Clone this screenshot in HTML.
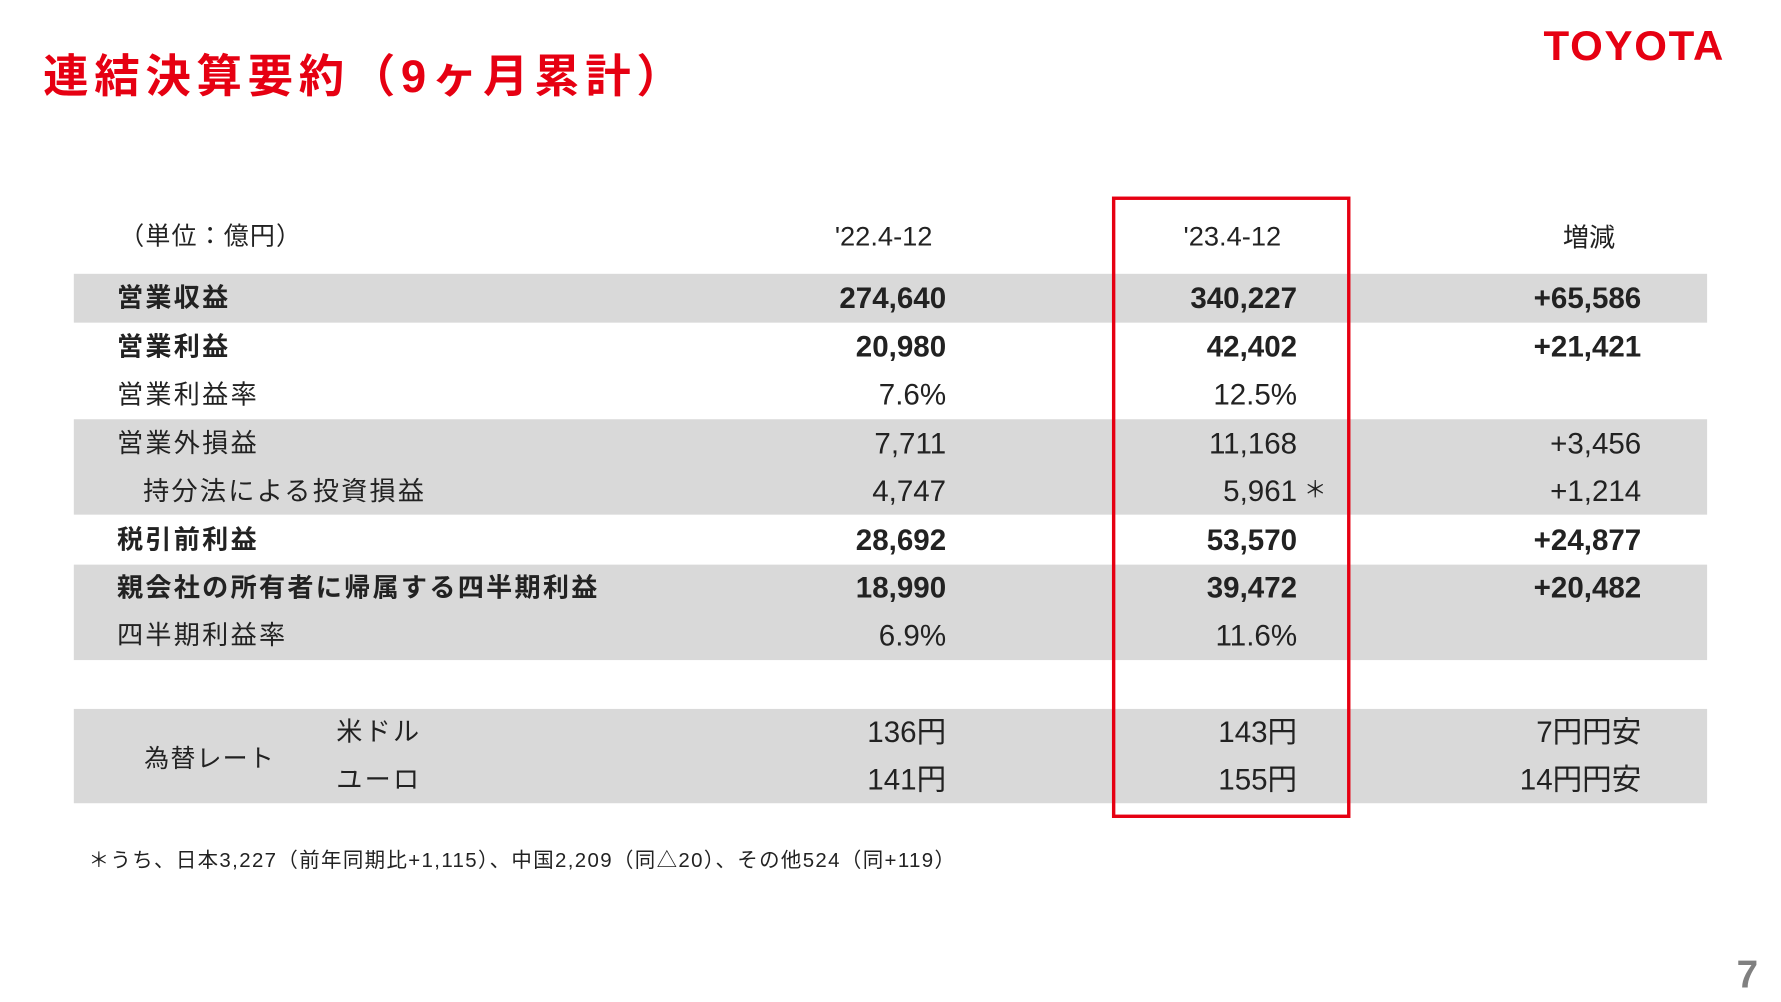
<!DOCTYPE html>
<html><head><meta charset="utf-8"><style>
html,body{margin:0;padding:0;background:#fff;overflow:hidden}
body{width:1781px;height:1002px}
#s{position:absolute;left:0;top:0;width:1568px;height:882px;transform:scale(1.1358,1.1361);transform-origin:0 0;font-family:"Liberation Sans","Noto Sans CJK JP",sans-serif;color:#222}
.a{position:absolute;white-space:nowrap}
.band{position:absolute;left:65px;width:1438px;background:#d9d9d9}
.r{position:absolute;left:0;width:1568px;height:42px;line-height:42px;font-size:26px}
.r span{position:absolute;white-space:nowrap}
.l{left:103px;font-size:23px;letter-spacing:2px}
.c1{right:735px}.c2{right:426px}.c3{right:123px}
.b{font-weight:bold}
</style></head><body><div id="s">
<div class="a" style="left:38px;top:40px;font-size:40px;font-weight:bold;color:#e60012;line-height:56px;letter-spacing:5px">連結決算要約（9ヶ月累計）</div>
<div class="a" style="left:1359px;top:21px;font-size:37px;font-weight:bold;color:#e60012;line-height:40px;letter-spacing:1.5px">TOYOTA</div>
<div class="a" style="left:105px;top:194px;font-size:22px;line-height:28px;letter-spacing:1px">（単位：億円）</div>
<div class="a" style="left:735px;top:195px;font-size:24px;line-height:28px">'22.4-12</div>
<div class="a" style="left:1042px;top:195px;font-size:24px;line-height:28px">'23.4-12</div>
<div class="a" style="left:1376px;top:195px;font-size:23px;line-height:28px">増減</div>
<div class="band" style="top:241px;height:43px"></div>
<div class="band" style="top:369px;height:84px"></div>
<div class="band" style="top:497px;height:84px"></div>
<div class="band" style="top:624px;height:83px"></div>
<div class="r b" style="top:241px"><span class="l">営業収益</span><span class="c1">274,640</span><span class="c2">340,227</span><span class="c3">+65,586</span></div>
<div class="r b" style="top:284px"><span class="l">営業利益</span><span class="c1">20,980</span><span class="c2">42,402</span><span class="c3">+21,421</span></div>
<div class="r" style="top:326px"><span class="l">営業利益率</span><span class="c1">7.6%</span><span class="c2">12.5%</span></div>
<div class="r" style="top:369px"><span class="l">営業外損益</span><span class="c1">7,711</span><span class="c2">11,168</span><span class="c3">+3,456</span></div>
<div class="r" style="top:411px"><span class="l" style="left:126px">持分法による投資損益</span><span class="c1">4,747</span><span class="c2">5,961</span><span style="left:1148px;font-size:20px">＊</span><span class="c3">+1,214</span></div>
<div class="r b" style="top:454px"><span class="l">税引前利益</span><span class="c1">28,692</span><span class="c2">53,570</span><span class="c3">+24,877</span></div>
<div class="r b" style="top:496px"><span class="l">親会社の所有者に帰属する四半期利益</span><span class="c1">18,990</span><span class="c2">39,472</span><span class="c3">+20,482</span></div>
<div class="r" style="top:538px"><span class="l">四半期利益率</span><span class="c1">6.9%</span><span class="c2">11.6%</span></div>
<div class="a" style="left:127px;top:654px;font-size:22px;line-height:28px;letter-spacing:1px">為替レート</div>
<div class="r" style="top:623px"><span class="l" style="left:296px">米ドル</span><span class="c1">136円</span><span class="c2">143円</span><span class="c3">7円円安</span></div>
<div class="r" style="top:665px"><span class="l" style="left:296px">ユーロ</span><span class="c1">141円</span><span class="c2">155円</span><span class="c3">14円円安</span></div>
<div class="a" style="left:979px;top:173px;width:204px;height:541px;border:3px solid #e60012"></div>
<div class="a" style="left:78px;top:745px;font-size:18px;line-height:24px;letter-spacing:1.2px">＊うち、日本3,227（前年同期比+1,115）、中国2,209（同△20）、その他524（同+119）</div>
<div class="a" style="left:1529px;top:838px;font-size:34px;font-weight:bold;color:#808080;line-height:40px">7</div>
</div></body></html>
